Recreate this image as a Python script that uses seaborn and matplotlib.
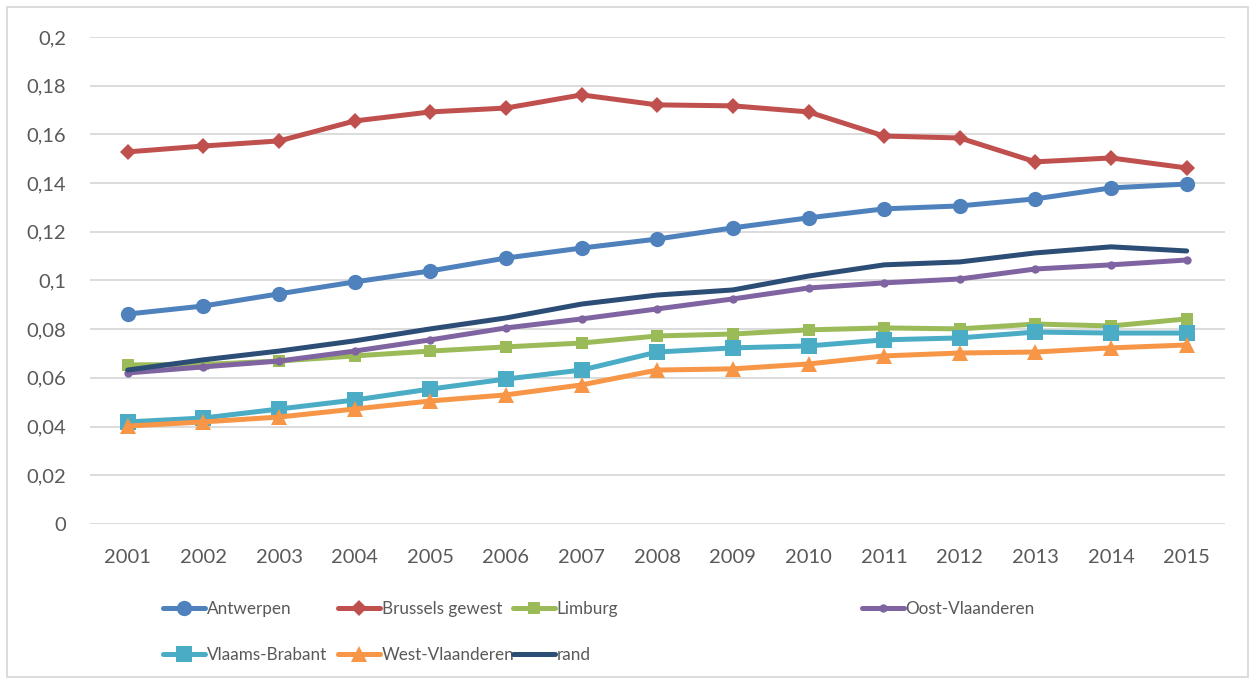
import matplotlib
matplotlib.use("Agg")
import matplotlib.pyplot as plt
from matplotlib.lines import Line2D
from matplotlib.patches import Rectangle
import seaborn as sns
import pandas as pd

years = list(range(2001, 2016))

antwerpen = [0.0862, 0.0895, 0.0945, 0.0994, 0.1039, 0.1092, 0.1133, 0.1170,
             0.1216, 0.1257, 0.1294, 0.1306, 0.1335, 0.1380, 0.1396]
brussels = [0.1528, 0.1552, 0.1573, 0.1655, 0.1692, 0.1708, 0.1762, 0.1721,
            0.1717, 0.1692, 0.1593, 0.1585, 0.1487, 0.1503, 0.1462]
limburg = [0.0653, 0.0655, 0.0669, 0.0690, 0.0710, 0.0727, 0.0743, 0.0772,
           0.0780, 0.0797, 0.0805, 0.0801, 0.0821, 0.0813, 0.0842]
oost_vl = [0.0620, 0.0645, 0.0669, 0.0710, 0.0756, 0.0805, 0.0842, 0.0883,
           0.0924, 0.0969, 0.0990, 0.1006, 0.1047, 0.1064, 0.1084]
vlaams_brabant = [0.0419, 0.0435, 0.0472, 0.0509, 0.0554, 0.0595, 0.0632, 0.0706,
                  0.0723, 0.0731, 0.0756, 0.0764, 0.0788, 0.0784, 0.0784]
west_vl = [0.0402, 0.0419, 0.0439, 0.0472, 0.0505, 0.0530, 0.0571, 0.0632,
           0.0637, 0.0657, 0.0690, 0.0702, 0.0706, 0.0723, 0.0735]
rand = [0.0632, 0.0674, 0.0710, 0.0752, 0.0801, 0.0846, 0.0903, 0.0940,
        0.0961, 0.1018, 0.1064, 0.1076, 0.1113, 0.1138, 0.1121]

series_names = ["Antwerpen", "Brussels gewest", "Limburg", "Oost-Vlaanderen",
                "Vlaams-Brabant", "West-Vlaanderen", "rand"]
series_values = [antwerpen, brussels, limburg, oost_vl, vlaams_brabant, west_vl, rand]

y_ticks = [0, 0.02, 0.04, 0.06, 0.08, 0.1, 0.12, 0.14, 0.16, 0.18, 0.2]
y_tick_labels = ["0", "0,02", "0,04", "0,06", "0,08", "0,1", "0,12", "0,14",
                 "0,16", "0,18", "0,2"]

styles = {
    "Antwerpen":       dict(color="#4F81BD", marker="o", ms=11),
    "Brussels gewest": dict(color="#C0504D", marker="D", ms=8),
    "Limburg":         dict(color="#9BBB59", marker="s", ms=9),
    "Oost-Vlaanderen": dict(color="#8064A2", marker="o", ms=6),
    "Vlaams-Brabant":  dict(color="#4BACC6", marker="s", ms=11),
    "West-Vlaanderen": dict(color="#F79646", marker="^", ms=11),
    "rand":            dict(color="#2C4D75", marker=None, ms=0),
}

sns.set_theme(style="white")
plt.rcParams["font.family"] = ["Lato", "DejaVu Sans"]

df = pd.DataFrame({
    "jaar": years * len(series_names),
    "waarde": [v for vals in series_values for v in vals],
    "reeks": [n for n in series_names for _ in years],
})

fig = plt.figure(figsize=(12.55, 6.84), dpi=100)
ax = fig.add_axes([0.0717, 0.234, 0.904, 0.712])

for i, name in enumerate(series_names):
    st = styles[name]
    sub = df[df["reeks"] == name]
    sns.lineplot(data=sub, x="jaar", y="waarde", ax=ax, color=st["color"],
                 linewidth=3.6, marker=st["marker"], markersize=st["ms"],
                 markeredgewidth=0, legend=False, zorder=3 + i,
                 solid_capstyle="round", solid_joinstyle="round")

ax.set_xlim(2000.5, 2015.5)
ax.set_ylim(0, 0.2)
ax.set_xticks(years)
ax.set_xticklabels([str(y) for y in years])
ax.set_yticks(y_ticks)
ax.set_yticklabels(y_tick_labels)
ax.set_xlabel("")
ax.set_ylabel("")
ax.grid(axis="y", color="#D9D9D9", linewidth=1.3)
ax.grid(axis="x", visible=False)
for s in ax.spines.values():
    s.set_visible(False)
ax.tick_params(axis="both", length=0, labelsize=14.5, colors="#595959")
ax.tick_params(axis="y", pad=17)
ax.tick_params(axis="x", pad=18)

# legend: four columns placed at fixed figure positions
columns = [["Antwerpen", "Vlaams-Brabant"], ["Brussels gewest", "West-Vlaanderen"],
           ["Limburg", "rand"], ["Oost-Vlaanderen"]]
col_x = [163, 338, 513, 862]
W, H = 1255, 684
for names, x0 in zip(columns, col_x):
    handles = []
    for n in names:
        st = styles[n]
        handles.append(Line2D([0], [0], color=st["color"], linewidth=3.6,
                              marker=st["marker"], markersize=st["ms"],
                              markeredgewidth=0, solid_capstyle="round"))
    fig.legend(handles, names, loc="upper left",
               bbox_to_anchor=(x0 / W, 1 - 601 / H),
               frameon=False, fontsize=12.3, handlelength=2.45,
               handletextpad=0.1, labelspacing=1.75, borderpad=0,
               borderaxespad=0, labelcolor="#595959")

fig.patches.append(Rectangle((7 / W, 7 / H), 1 - 14 / W, 1 - 14 / H,
                             transform=fig.transFigure, fill=False,
                             edgecolor="#D9D9D9", linewidth=1.3))

fig.savefig("out.png", dpi=100)
